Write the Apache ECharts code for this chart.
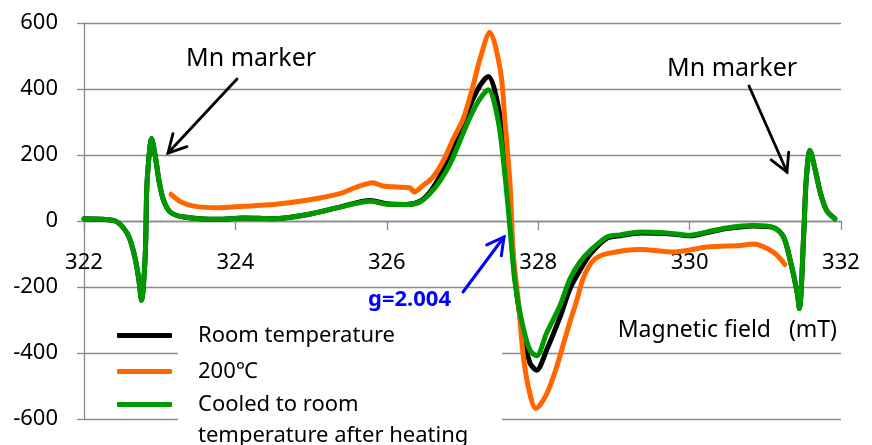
<!DOCTYPE html>
<html>
<head>
<meta charset="utf-8">
<script src="https://cdn.jsdelivr.net/npm/echarts@6/dist/echarts.min.js"></script>
<style>html,body{margin:0;padding:0;background:#fff}#c{width:872px;height:445px}</style>
</head>
<body>
<div id="c"></div>
<script>
// Magnetic field sweep (mT) shared by room-temperature and cooled spectra
const fieldRT = [322.00,322.39,322.57,322.66,322.72,322.76,322.81,322.83,322.87,322.89,322.95,322.99,323.05,323.14,323.32,323.76,324.11,324.50,324.94,325.38,325.78,326.00,326.26,326.44,326.57,326.70,326.84,326.97,327.10,327.23,327.34,327.47,327.56,327.63,327.69,327.78,327.89,327.98,328.11,328.29,328.42,328.55,328.69,328.91,329.08,329.35,329.70,330.01,330.23,330.49,330.84,331.11,331.24,331.33,331.42,331.45,331.51,331.54,331.59,331.66,331.73,331.81,331.92];
const intensityRT = [7,2,-37,-98,-170,-240,-98,103,224,250,184,123,63,27,12,5,9,7,19,42,62,52,50,60,88,135,200,270,350,410,438,350,195,22,-165,-318,-430,-452,-392,-290,-205,-150,-100,-52,-45,-36,-38,-45,-35,-23,-15,-20,-48,-120,-215,-265,-28,123,214,154,83,32,7];
const fieldCooled = fieldRT;
const intensityCooled = [7,2,-37,-98,-170,-240,-98,103,224,250,184,123,63,27,12,5,9,7,19,42,60,51,50,58,83,120,175,245,315,370,398,305,140,-28,-180,-301,-392,-408,-340,-255,-175,-125,-89,-48,-42,-33,-36,-43,-33,-21,-14,-20,-48,-120,-215,-265,-28,123,214,154,83,32,7];
// 200 °C spectrum (no Mn marker lines)
const field200 = [323.15,323.28,323.45,323.76,324.11,324.50,324.94,325.38,325.60,325.82,325.95,326.13,326.31,326.36,326.48,326.61,326.75,326.88,327.01,327.14,327.23,327.36,327.50,327.56,327.63,327.67,327.74,327.80,327.87,327.97,328.11,328.24,328.33,328.42,328.51,328.60,328.73,328.91,329.35,329.79,330.23,330.67,330.84,331.11,331.26];
const intensity200 = [81,58,45,40,45,50,63,83,103,116,106,103,100,88,108,133,184,250,310,410,490,572,457,305,103,-98,-250,-402,-503,-568,-525,-445,-375,-305,-240,-170,-119,-99,-86,-94,-79,-74,-70,-95,-132];

const seriesNames = ['Room temperature', '200\u2103', 'Cooled to room\ntemperature after heating'];
const seriesColors = ['#000000', '#FF6600', '#009A00'];
const axisTitle = 'Magnetic field   (mT)';

const zip = (xs, ys) => xs.map((x, i) => [x, ys[i]]);
const FONT = '"Noto Sans", "Open Sans", sans-serif';

function arrow(x1, y1, x2, y2, color, w, head) {
  const a = Math.atan2(y2 - y1, x2 - x1);
  const sp = 0.5;
  const p1 = [x2 - head * Math.cos(a - sp), y2 - head * Math.sin(a - sp)];
  const p2 = [x2 - head * Math.cos(a + sp), y2 - head * Math.sin(a + sp)];
  return [
    { type: 'line', z: 10, shape: { x1, y1, x2, y2 }, style: { stroke: color, lineWidth: w, lineCap: 'round' } },
    { type: 'polyline', z: 10, shape: { points: [p1, [x2, y2], p2] }, style: { stroke: color, lineWidth: w, fill: null, lineCap: 'round', lineJoin: 'miter' } }
  ];
}

const chart = echarts.init(document.getElementById('c'), null, { renderer: 'canvas' });
const lineSeries = (name, data, color) => ({
  name, type: 'line', data, showSymbol: false, smooth: 0.3, color,
  lineStyle: { color, width: 5, cap: 'round', join: 'round' }, z: 2
});

chart.setOption({
  animation: false,
  backgroundColor: '#fff',
  grid: { left: 84, right: 31, top: 23, bottom: 26, outerBoundsMode: 'none' },
  xAxis: {
    type: 'value', min: 322, max: 332, interval: 2, position: 'bottom', offset: -198,
    axisLine: { onZero: false, lineStyle: { color: '#8a8a8a', width: 1.3 } },
    axisTick: { show: true, inside: false, length: 9, lineStyle: { color: '#8a8a8a', width: 1.3 } },
    axisLabel: { show: true, margin: 31, fontSize: 22, color: '#000', fontFamily: FONT, showMinLabel: true, showMaxLabel: true },
    splitLine: { show: false }
  },
  yAxis: {
    type: 'value', min: -600, max: 600, interval: 200,
    axisLine: { show: true, lineStyle: { color: '#8a8a8a', width: 1.3 } },
    axisTick: { show: true, length: 7, lineStyle: { color: '#8a8a8a', width: 1.3 } },
    axisLabel: { margin: 26, fontSize: 22, color: '#000', fontFamily: FONT },
    splitLine: { show: true, lineStyle: { color: '#8a8a8a', width: 1.3 } }
  },
  legend: [
    {
      data: [seriesNames[0], seriesNames[1]], orient: 'vertical', left: 117, top: 320, padding: 0, itemGap: 5,
      icon: 'roundRect', itemWidth: 55, itemHeight: 5, selectedMode: false, z: 4,
      textStyle: { fontSize: 22, lineHeight: 31, color: '#000', fontFamily: FONT, padding: [0, 0, 0, 21] }
    },
    {
      data: [seriesNames[2]], orient: 'vertical', left: 117, top: 358, padding: 0,
      icon: 'roundRect', itemWidth: 55, itemHeight: 5, selectedMode: false, z: 4,
      formatter: name => '\n' + name,
      textStyle: { fontSize: 22, lineHeight: 31, color: '#000', fontFamily: FONT, padding: [0, 0, 0, 21] }
    }
  ],
  graphic: [
    { type: 'rect', z: 1, shape: { x: 178, y: 312, width: 324, height: 133 }, style: { fill: '#fff' } },
    { type: 'text', z: 10, x: 837, y: 330, style: { text: axisTitle, fontSize: 23, fontFamily: FONT, fill: '#000', align: 'right', verticalAlign: 'middle' } },
    { type: 'text', z: 10, x: 186, y: 59, style: { text: 'Mn marker', fontSize: 25, fontFamily: FONT, fill: '#000', verticalAlign: 'middle' } },
    { type: 'text', z: 10, x: 667, y: 69, style: { text: 'Mn marker', fontSize: 25, fontFamily: FONT, fill: '#000', verticalAlign: 'middle' } },
    { type: 'text', z: 10, x: 368, y: 300, style: { text: 'g=2.004', fontSize: 22, fontWeight: 'bold', fontFamily: FONT, fill: '#0000FF', verticalAlign: 'middle' } },
    ...arrow(237, 79, 168, 153, '#000', 2.8, 20),
    ...arrow(749, 86, 787, 172, '#000', 2.8, 20),
    ...arrow(463, 292, 504, 237, '#0000FF', 3, 19)
  ],
  series: [
    lineSeries(seriesNames[0], zip(fieldRT, intensityRT), seriesColors[0]),
    lineSeries(seriesNames[1], zip(field200, intensity200), seriesColors[1]),
    lineSeries(seriesNames[2], zip(fieldCooled, intensityCooled), seriesColors[2])
  ]
});
</script>
</body>
</html>
